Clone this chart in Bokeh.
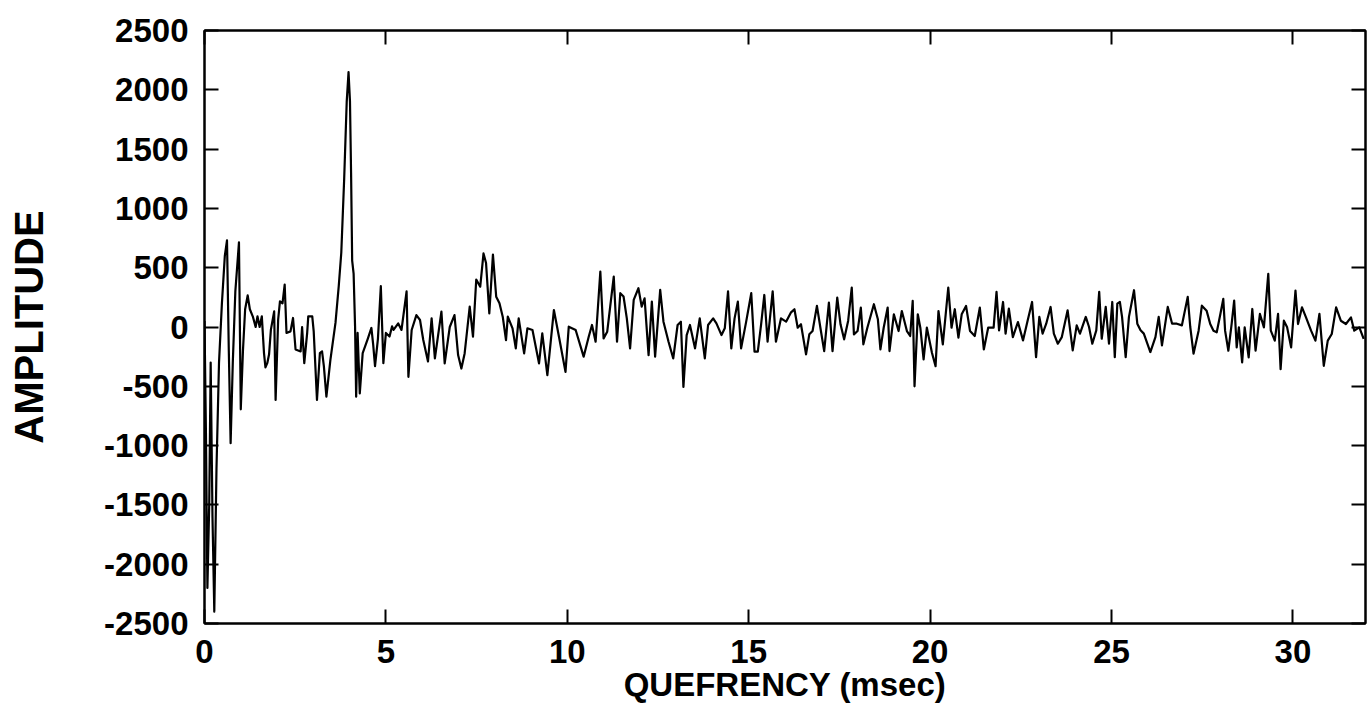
from bokeh.plotting import figure
from bokeh.models import LinearAxis, FixedTicker, Range1d
from bokeh.embed import file_html
from bokeh.resources import INLINE

# Quefrency (msec) and cepstral amplitude
quefrency_ms = [
    0.00, 0.04, 0.08, 0.13, 0.17, 0.22, 0.27, 0.33, 0.40, 0.48, 0.56, 0.62, 0.67, 0.72, 0.78, 0.85, 0.95, 1.00,
    1.06, 1.12, 1.19, 1.25, 1.33, 1.41, 1.46, 1.52, 1.58, 1.64, 1.68, 1.73, 1.78, 1.83, 1.92, 1.96, 2.03, 2.08,
    2.15, 2.21, 2.26, 2.37, 2.44, 2.51, 2.65, 2.69, 2.75, 2.83, 2.86, 2.97, 3.01, 3.10, 3.18, 3.24, 3.29, 3.36,
    3.47, 3.61, 3.70, 3.77, 3.85, 3.92, 3.97, 4.01, 4.04, 4.07, 4.11, 4.15, 4.18, 4.22, 4.28, 4.36, 4.50, 4.60,
    4.65, 4.70, 4.78, 4.86, 4.93, 5.00, 5.10, 5.17, 5.21, 5.34, 5.43, 5.57, 5.62, 5.71, 5.84, 5.94, 6.03, 6.16,
    6.26, 6.35, 6.53, 6.62, 6.76, 6.89, 6.99, 7.08, 7.17, 7.31, 7.40, 7.49, 7.60, 7.69, 7.76, 7.85, 7.95, 8.04,
    8.13, 8.22, 8.31, 8.36, 8.49, 8.58, 8.66, 8.81, 8.90, 9.04, 9.22, 9.31, 9.45, 9.63, 9.77, 9.95, 10.04, 10.23,
    10.45, 10.59, 10.68, 10.78, 10.91, 11.00, 11.10, 11.28, 11.37, 11.46, 11.55, 11.64, 11.73, 11.83, 11.96, 12.05,
    12.13, 12.24, 12.33, 12.42, 12.56, 12.65, 12.79, 12.92, 13.04, 13.13, 13.20, 13.29, 13.38, 13.52, 13.65, 13.79,
    13.88, 14.02, 14.11, 14.25, 14.34, 14.43, 14.52, 14.61, 14.70, 14.79, 14.93, 15.07, 15.16, 15.25, 15.34, 15.43,
    15.52, 15.66, 15.75, 15.89, 16.03, 16.16, 16.26, 16.35, 16.44, 16.58, 16.67, 16.76, 16.88, 16.99, 17.08, 17.21,
    17.31, 17.44, 17.53, 17.63, 17.74, 17.84, 17.90, 18.00, 18.09, 18.16, 18.27, 18.45, 18.56, 18.63, 18.72, 18.83,
    18.88, 19.00, 19.13, 19.22, 19.36, 19.45, 19.52, 19.57, 19.66, 19.73, 19.82, 19.91, 20.05, 20.15, 20.23, 20.35,
    20.50, 20.59, 20.68, 20.78, 20.87, 20.99, 21.10, 21.23, 21.37, 21.48, 21.60, 21.75, 21.83, 21.90, 22.01, 22.08,
    22.17, 22.28, 22.42, 22.56, 22.69, 22.81, 22.92, 23.01, 23.10, 23.20, 23.32, 23.41, 23.52, 23.63, 23.79, 23.93,
    24.04, 24.13, 24.29, 24.38, 24.47, 24.58, 24.66, 24.73, 24.84, 24.93, 25.02, 25.09, 25.16, 25.23, 25.29, 25.39,
    25.48, 25.62, 25.71, 25.80, 25.89, 26.07, 26.21, 26.30, 26.39, 26.55, 26.67, 26.80, 26.94, 27.10, 27.17, 27.26,
    27.40, 27.49, 27.62, 27.72, 27.81, 27.90, 28.00, 28.08, 28.13, 28.22, 28.31, 28.38, 28.45, 28.51, 28.60, 28.67,
    28.78, 28.88, 28.97, 29.09, 29.20, 29.32, 29.39, 29.50, 29.59, 29.66, 29.75, 29.84, 29.95, 30.07, 30.14, 30.25,
    30.36, 30.50, 30.62, 30.73, 30.85, 30.96, 31.07, 31.19, 31.32, 31.46, 31.60, 31.69, 31.83, 31.95,
]
amplitude = [
    50, -900, -2200, -1500, -300, -1600, -2400, -1200, -300, 200, 600, 730, -200, -980, -300, 300, 713, -694,
    -200, 150, 266, 150, 90, 0, 90, 0, 90, -220, -340, -305, -230, -22, 132, -615, 62, 217,
    200, 358, -50, -37, 76, -190, -206, 0, -305, -50, 90, 90, -37, -615, -220, -205, -330, -587,
    -277, 34, 344, 626, 1250, 1900, 2150, 1900, 1300, 560, 450, 6, -587, -50, -560, -220, -100, -8,
    -150, -330, -100, 344, -305, -50, -80, 6, -25, 30, -25, 300, -420, -25, 100, 59, -110, -290,
    73, -265, 130, -307, 0, 100, -237, -350, -223, 172, -82, 400, 340, 620, 540, 115, 610, 255,
    200, 87, -110, 87, -11, -180, 73, -222, -11, -25, -307, -53, -406, 143, -82, -378, 3, -25,
    -250, -82, 17, -124, 468, -96, -40, 425, -124, 285, 257, 73, -180, 228, 327, 172,
    242, -237, 214, -250, 313, 45, -124, -265, 17, 45, -505, -68, 17, -180, 73, -265,
    17, 73, 31, -68, -11, 300, -180, 73, 214, -180, 45, 285, -208, -208, 17, 270,
    -124, 300, -124, 73, 45, 121, 150, -6, 23, -231, -62, -34, 178, -34, -203, 206,
    -203, 248, 23, -104, 51, 333, -62, -34, 164, -146, -6, 192, 65, -189, -6, 164,
    -203, 107, -34, 135, -34, -76, 220, -500, 107, -6, -274, -6, -217, -330, 135, -146,
    333, -6, 150, -90, 107, 178, -34, -76, 164, -189, -6, -6, 296, -28, 211, -56,
    155, -85, 42, -113, 56, 211, -254, 85, -56, 28, 169, -56, -141, -85, 141, -197,
    14, -56, 85, 0, -141, -28, 296, -99, 169, -141, 211, -254, 197, 211, 85, -254,
    85, 310, 28, -28, -56, -211, -85, 85, -155, 169, 28, 28, 14, 254, 0, -225,
    -31, 180, 138, 25, -31, -45, 110, 237, -31, -200, 25, 223, -172, -3, -299, -3,
    -257, 152, -200, 110, -3, 448, -31, -115, 110, -355, 53, -3, -172, 307, 25, 166,
    81, -31, -115, 110, -327, -115, -59, 166, 53, 25, 81, -31, -3, -100,
]

x_ticks = [0, 5, 10, 15, 20, 25, 30]
x_tick_labels = ["0", "5", "10", "15", "20", "25", "30"]
y_ticks = [-2500, -2000, -1500, -1000, -500, 0, 500, 1000, 1500, 2000, 2500]
y_tick_labels = ["-2500", "-2000", "-1500", "-1000", "-500", "0", "500", "1000", "1500", "2000", "2500"]

FONT = "Liberation Sans"

p = figure(
    width=1370, height=715,
    output_backend="svg", toolbar_location=None,
    x_range=Range1d(0, 32), y_range=Range1d(-2500, 2500),
    min_border_left=204, min_border_right=5, min_border_top=30, min_border_bottom=92,
    background_fill_color="white", border_fill_color="white",
)
p.grid.visible = False
p.outline_line_color = "black"
p.outline_line_width = 2

p.line(quefrency_ms, amplitude, line_color="black", line_width=2.2, line_join="round")


def style(ax, ticks, labels=None):
    ax.ticker = FixedTicker(ticks=ticks)
    ax.axis_line_color = "black"
    ax.axis_line_width = 2
    ax.major_tick_line_color = "black"
    ax.major_tick_line_width = 2
    ax.major_tick_in = 14
    ax.major_tick_out = 0
    ax.minor_tick_line_color = None
    if labels is not None:
        ax.major_label_overrides = {t: s for t, s in zip(ticks, labels)}
        ax.major_label_text_font = FONT
        ax.major_label_text_font_size = "33px"
        ax.major_label_text_font_style = "bold"
        ax.major_label_text_color = "black"
        ax.axis_label_text_font = FONT
        ax.axis_label_text_font_style = "bold"
        ax.axis_label_text_color = "black"
    else:
        ax.major_label_overrides = {t: "" for t in ticks}
        ax.major_label_standoff = 0


xa = p.xaxis[0]
style(xa, x_ticks, x_tick_labels)
xa.axis_label = "QUEFRENCY (msec)"
xa.axis_label_text_font_size = "33px"
xa.major_label_standoff = 16
xa.axis_label_standoff = 0

ya = p.yaxis[0]
style(ya, y_ticks, y_tick_labels)
ya.axis_label = "AMPLITUDE"
ya.axis_label_text_font_size = "40px"
ya.major_label_standoff = 16
ya.axis_label_standoff = 50

top = LinearAxis()
style(top, x_ticks)
p.add_layout(top, "above")
right = LinearAxis()
style(right, y_ticks)
p.add_layout(right, "right")

open("out.html", "w").write(file_html(p, INLINE))
